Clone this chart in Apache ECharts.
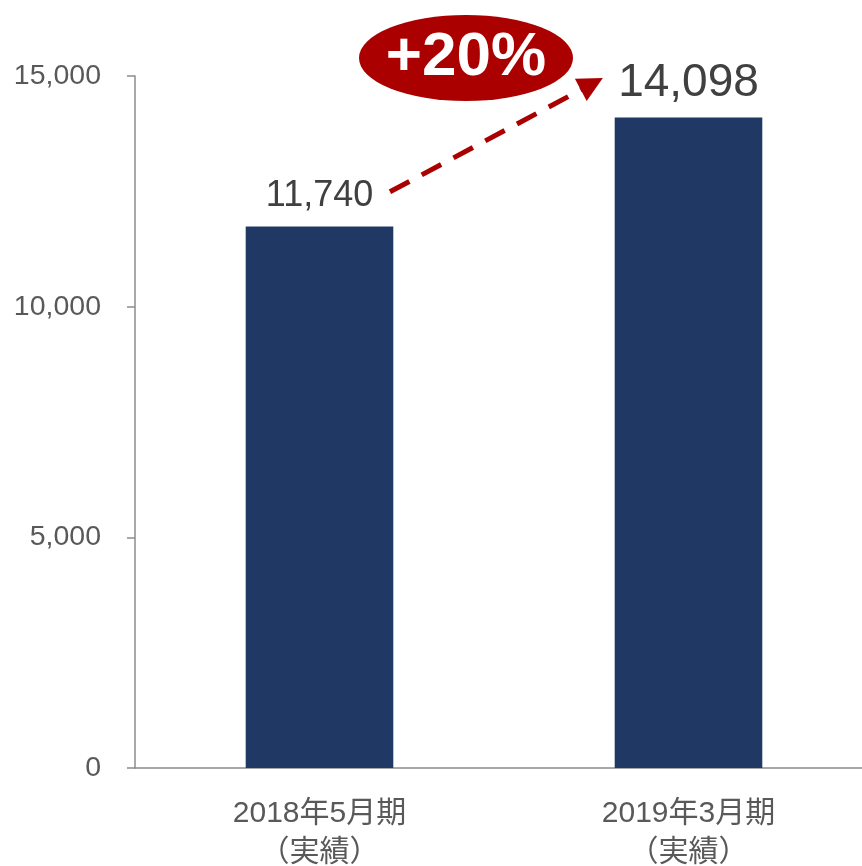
<!DOCTYPE html>
<html>
<head>
<meta charset="utf-8">
<script src="https://cdn.jsdelivr.net/npm/echarts@6/dist/echarts.min.js"></script>
<style>
  html, body { margin: 0; padding: 0; background: #fff; }
  #chart { width: 862px; height: 866px; }
</style>
</head>
<body>
<div id="chart"></div>
<script>
// data
var categories = ['2018年5月期\n（実績）', '2019年3月期\n（実績）']
var values = [11740, 14098]
var yTicks = [0, 5000, 10000, 15000]
// growth annotation, in data units (x = category index on a hidden value axis)
var arrowFrom = [0.191, 12490]
var arrowTo = [0.738, 14827]
var badgePos = [0.397, 15390]
var badgeText = '+20%'

var fontLatin = '"Liberation Sans", Arial, "Noto Sans CJK JP", sans-serif'
var labelSizes = [36, 46]

function fmt(v) {
  return String(v).replace(/\B(?=(\d{3})+(?!\d))/g, ',')
}

var chart = echarts.init(document.getElementById('chart'), null, { renderer: 'canvas' })

chart.setOption({
  animation: false,
  grid: {
    left: 135,
    right: -11,
    top: 76,
    bottom: 98,
    containLabel: false,
    outerBoundsMode: 'none'
  },
  xAxis: [{
    type: 'category',
    data: categories,
    axisLine: { lineStyle: { color: '#8c8c8c', width: 1.5 } },
    axisTick: { show: false },
    axisLabel: {
      color: '#595959',
      fontSize: 30,
      lineHeight: 39,
      margin: 26,
      fontFamily: fontLatin
    }
  }, {
    type: 'value',
    min: -0.5,
    max: 1.5,
    show: false
  }],
  yAxis: {
    type: 'value',
    min: yTicks[0],
    max: yTicks[yTicks.length - 1],
    interval: yTicks[1] - yTicks[0],
    axisLine: { show: true, onZero: false, lineStyle: { color: '#8c8c8c', width: 1.5 } },
    axisTick: { show: true, length: 8, lineStyle: { color: '#8c8c8c', width: 1.5 } },
    splitLine: { show: false },
    axisLabel: {
      color: '#595959',
      fontSize: 28.5,
      margin: 34,
      fontFamily: fontLatin,
      formatter: function (v) { return fmt(v) }
    }
  },
  series: [{
    type: 'bar',
    barWidth: '40%',
    itemStyle: { color: '#1F3864' },
    data: values.map(function (v, i) {
      return {
        value: v,
        label: {
          show: true,
          position: 'top',
          distance: i === 0 ? 12 : 11,
          color: '#404040',
          fontSize: labelSizes[i],
          fontFamily: fontLatin,
          formatter: function (p) { return fmt(p.value) }
        }
      }
    })
  }, {
    // dashed growth arrow
    type: 'line',
    xAxisIndex: 1,
    yAxisIndex: 0,
    data: [],
    silent: true,
    markLine: {
      silent: true,
      symbol: ['none', 'triangle'],
      symbolSize: [25, 25],
      label: { show: false },
      lineStyle: { color: '#AA0000', width: 5, type: [22, 14], opacity: 1 },
      data: [[{ coord: arrowFrom }, { coord: arrowTo }]]
    }
  }, {
    // red badge
    type: 'scatter',
    xAxisIndex: 1,
    yAxisIndex: 0,
    clip: false,
    silent: true,
    symbol: 'circle',
    symbolSize: [214, 86],
    itemStyle: { color: '#AA0000', opacity: 1 },
    label: {
      show: true,
      position: 'inside',
      formatter: badgeText,
      color: '#fff',
      fontSize: 62,
      fontWeight: 'bold',
      fontFamily: fontLatin
    },
    data: [badgePos]
  }]
})
</script>
</body>
</html>
